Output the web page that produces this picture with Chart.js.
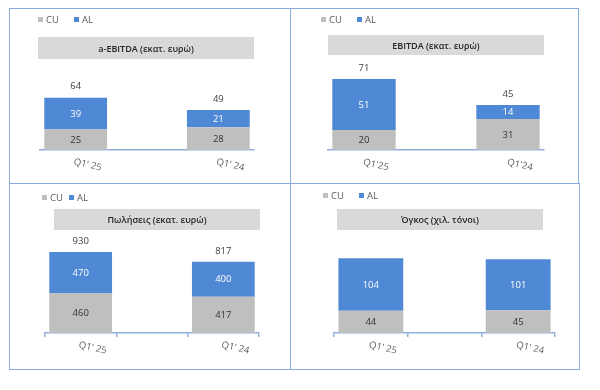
<!DOCTYPE html>
<html>
<head>
<meta charset="utf-8">
<script src="https://cdn.jsdelivr.net/npm/chart.js@4.4.1/dist/chart.umd.min.js"></script>
<style>
  body { margin: 0; background: #fff; font-family: 'Open Sans', 'Noto Sans', sans-serif; }
  #wrap { position: relative; width: 600px; height: 390px; overflow: hidden; }
  .panel { position: absolute; border: 1.5px solid #8aade0; box-sizing: border-box; }
  .panel canvas { position: absolute; left: 0; top: 0; }
  .leg { position: absolute; font-size: 9.5px; line-height: 10px; color: #595959; white-space: nowrap; }
  .leg span.sq { display: inline-block; width: 5px; height: 5px; margin-right: 3px; vertical-align: 1px; }
  .title { position: absolute; background: #d9d9d9; color: #262626; font-size: 9px; font-weight: 600;
           display: flex; align-items: center; justify-content: center; }
</style>
</head>
<body>
<div id="wrap"></div>
<script>
// Κατηγορίες (η μεσαία είναι κενή, όπως στο πρωτότυπο)
const labelsSpaced = ["Q1' 25", '', "Q1' 24"];
const labelsTight = ["Q1'25", '', "Q1'24"];

// a-EBITDA (εκατ. ευρώ)
const aEbitdaCU = [25, null, 28];
const aEbitdaAL = [39, null, 21];
// EBITDA (εκατ. ευρώ)
const ebitdaCU = [20, null, 31];
const ebitdaAL = [51, null, 14];
// Πωλήσεις (εκατ. ευρώ)
const salesCU = [460, null, 417];
const salesAL = [470, null, 400];
// Όγκος (χιλ. τόνοι)
const volumeCU = [44, null, 45];
const volumeAL = [104, null, 101];

const CU_COLOR = '#bfbfbf';
const AL_COLOR = '#4f88d4';
const AXIS_COLOR = '#8fb0de';
const FONT = "'Open Sans', 'Noto Sans', sans-serif";

// Περιγραφή των 4 πλαισίων (θέσεις σε px μέσα στο πλαίσιο)
const panels = [
  { title: 'a-EBITDA (εκατ. ευρώ)', labels: labelsSpaced, cu: aEbitdaCU, al: aEbitdaAL, totals: true,
    box: [9, 8, 282, 176], pad: { left: 30, right: 38, top: 12, bottom: 35 }, max: 158, ticks: false,
    legend: { y: 6, cu: 28, al: 64 }, titleBox: [28, 28, 216, 22] },
  { title: 'EBITDA (εκατ. ευρώ)', labels: labelsTight, cu: ebitdaCU, al: ebitdaAL, totals: true,
    box: [290, 8, 289, 176], pad: { left: 37, right: 36, top: 12, bottom: 35 }, max: 129, ticks: false,
    legend: { y: 6, cu: 30, al: 66 }, titleBox: [37, 26, 216, 20] },
  { title: 'Πωλήσεις (εκατ. ευρώ)', labels: labelsSpaced, cu: salesCU, al: salesAL, totals: true,
    box: [9, 183, 282, 187], pad: { left: 35, right: 33, top: 14, bottom: 34 }, max: 1550, ticks: true,
    legend: { y: 9, cu: 32, al: 59 }, titleBox: [44, 25, 206, 21] },
  { title: 'Όγκος (χιλ. τόνοι)', labels: labelsSpaced, cu: volumeCU, al: volumeAL, totals: false,
    box: [290, 183, 290, 187], pad: { left: 43, right: 26, top: 14, bottom: 34 }, max: 267, ticks: true,
    legend: { y: 7, cu: 32, al: 68 }, titleBox: [46, 25, 206, 21] }
];

// Ετικέτες τιμών μέσα στις μπάρες και σύνολα από πάνω
const valueLabels = {
  id: 'valueLabels',
  afterDatasetsDraw(chart, args, opts) {
    const ctx = chart.ctx;
    ctx.save();
    ctx.font = '9.5px ' + FONT;
    ctx.textAlign = 'center';
    ctx.textBaseline = 'middle';
    chart.data.datasets.forEach((ds, di) => {
      const meta = chart.getDatasetMeta(di);
      meta.data.forEach((el, i) => {
        if (ds.data[i] == null) return;
        ctx.fillStyle = di === 1 ? '#ffffff' : '#333333';
        ctx.fillText(ds.data[i], el.x, (el.y + el.base) / 2 + 0.5);
      });
    });
    if (opts.totals) {
      const top = chart.getDatasetMeta(1);
      ctx.fillStyle = '#404040';
      top.data.forEach((el, i) => {
        const a = chart.data.datasets[0].data[i];
        const b = chart.data.datasets[1].data[i];
        if (a == null) return;
        ctx.fillText(a + b, el.x, el.y - 11);
      });
    }
    ctx.restore();
  }
};

// Πλάγιες ετικέτες άξονα X
const slantLabels = {
  id: 'slantLabels',
  afterDraw(chart) {
    const ctx = chart.ctx;
    const x = chart.scales.x;
    ctx.save();
    ctx.font = '9.5px ' + FONT;
    ctx.fillStyle = '#595959';
    ctx.textAlign = 'center';
    ctx.textBaseline = 'middle';
    chart.data.labels.forEach((lab, i) => {
      if (!lab) return;
      ctx.save();
      ctx.translate(x.getPixelForValue(i) + 12, x.top + 15);
      ctx.rotate(13 * Math.PI / 180);
      ctx.fillText(lab, 0, 0);
      ctx.restore();
    });
    ctx.restore();
  }
};

const wrap = document.getElementById('wrap');

function legendItem(parent, text, color, x, y) {
  const el = document.createElement('div');
  el.className = 'leg';
  el.style.left = x + 'px';
  el.style.top = y + 'px';
  el.innerHTML = `<span class="sq" style="background:${color}"></span>${text}`;
  parent.appendChild(el);
}

panels.forEach(p => {
  const div = document.createElement('div');
  div.className = 'panel';
  div.style.left = p.box[0] + 'px';
  div.style.top = p.box[1] + 'px';
  div.style.width = p.box[2] + 'px';
  div.style.height = p.box[3] + 'px';
  wrap.appendChild(div);

  const canvas = document.createElement('canvas');
  canvas.width = p.box[2];
  canvas.height = p.box[3];
  div.appendChild(canvas);

  legendItem(div, 'CU', CU_COLOR, p.legend.cu, p.legend.y);
  legendItem(div, 'AL', AL_COLOR, p.legend.al, p.legend.y);

  const t = document.createElement('div');
  t.className = 'title';
  t.style.left = p.titleBox[0] + 'px';
  t.style.top = p.titleBox[1] + 'px';
  t.style.width = p.titleBox[2] + 'px';
  t.style.height = p.titleBox[3] + 'px';
  t.textContent = p.title;
  div.appendChild(t);

  new Chart(canvas, {
    type: 'bar',
    data: {
      labels: p.labels,
      datasets: [
        { label: 'CU', data: p.cu, backgroundColor: CU_COLOR },
        { label: 'AL', data: p.al, backgroundColor: AL_COLOR }
      ]
    },
    options: {
      responsive: false,
      animation: false,
      layout: { padding: p.pad },
      datasets: { bar: { barPercentage: 0.88, categoryPercentage: 1 } },
      plugins: {
        legend: { display: false },
        tooltip: { enabled: false },
        valueLabels: { totals: p.totals }
      },
      scales: {
        x: {
          stacked: true,
          grid: { display: p.ticks, drawOnChartArea: false, drawTicks: p.ticks, tickLength: 4, color: AXIS_COLOR, lineWidth: 1.5 },
          border: { color: AXIS_COLOR, width: 1.5 },
          ticks: { display: false }
        },
        y: { stacked: true, display: false, min: 0, max: p.max }
      }
    },
    plugins: [valueLabels, slantLabels]
  });
});
</script>
</body>
</html>
